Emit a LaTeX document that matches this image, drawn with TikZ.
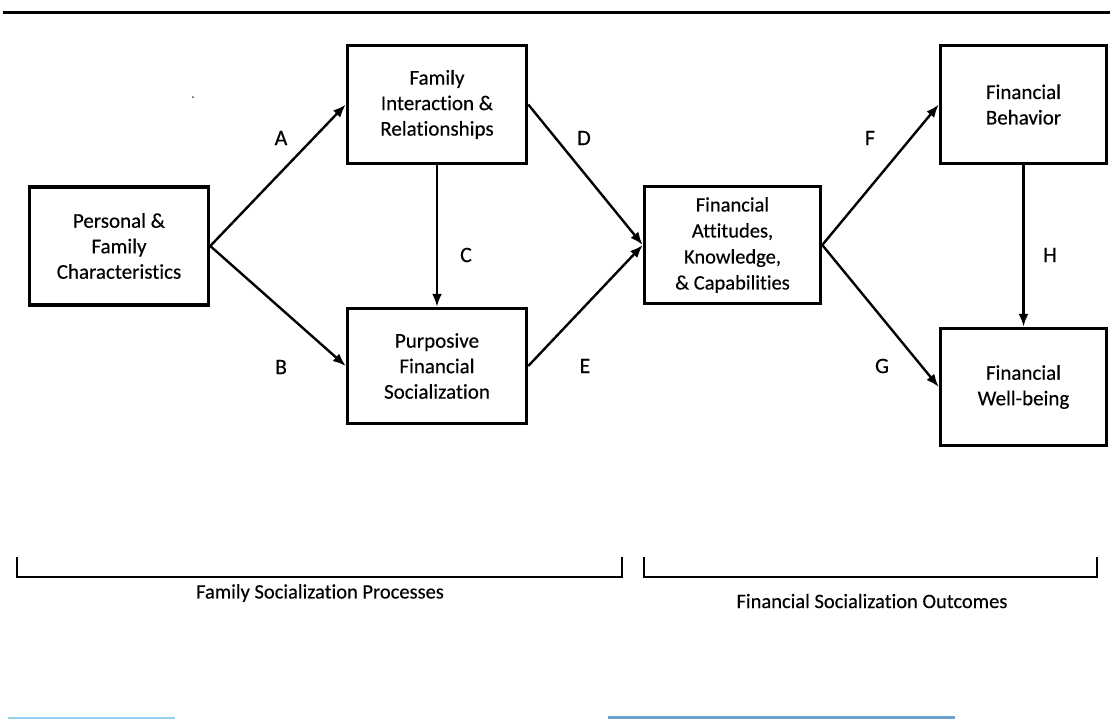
\documentclass[tikz,border=0pt]{standalone}
\usepackage{fontspec}
\setmainfont{Carlito}[Ligatures=NoCommon,FakeBold=0.35]
\usetikzlibrary{arrows.meta}
\begin{document}
\begin{tikzpicture}[x=1pt,y=-1pt,
  box/.style={draw,line width=3.5pt,align=center,inner sep=0pt,
    font=\fontsize{21}{25.5}\selectfont},
  conn/.style={line width=2.4pt,-{Latex[length=13pt,width=10pt]}},
  lab/.style={font=\fontsize{22}{24}\selectfont},
  brk/.style={line width=2.6pt},
  brklab/.style={font=\fontsize{20.5}{22}\selectfont}]
\useasboundingbox[fill=white] (0,0) rectangle (1110,721);
% top rule
\coordinate (tl) at (3,12);
\coordinate (tr) at (1110,12);
\draw[line width=3pt] (tl) -- (tr);
% boxes
\node[box,minimum width=179pt,minimum height=118pt] (p) at (119,246) {Personal \&\\Family\\Characteristics};
\node[box,minimum width=179pt,minimum height=118pt] (fi) at (437,104.5) {Family\\Interaction \&\\Relationships};
\node[box,minimum width=179pt,minimum height=115pt] (pf) at (437,366) {Purposive\\Financial\\Socialization};
\node[box,minimum width=176pt,minimum height=117pt,font=\fontsize{20.5}{26}\selectfont] (fa) at (732.5,245) {Financial\\Attitudes,\\Knowledge,\\\& Capabilities};
\node[box,minimum width=166pt,minimum height=118pt] (fb) at (1023.5,104.5) {Financial\\Behavior};
\node[box,minimum width=166pt,minimum height=117pt] (fw) at (1023.5,387) {Financial\\Well-being};
% connectors
\draw[conn] (p.east) -- (fi.west);
\draw[conn] (p.east) -- (pf.west);
\draw[conn] (fi.south) -- (pf.north);
\draw[conn] (fi.east) -- (fa.west);
\draw[conn] (pf.east) -- (fa.west);
\draw[conn] (fa.east) -- (fb.west);
\draw[conn] (fa.east) -- (fw.west);
\draw[conn] (fb.south) -- (fw.north);
% labels
\node[lab] (la) at (281,138) {A};
\node[lab] (lb) at (281,367) {B};
\node[lab] (lc) at (466,255) {C};
\node[lab] (ld) at (584,138) {D};
\node[lab] (le) at (585,366) {E};
\node[lab] (lf) at (870,138) {F};
\node[lab] (lg) at (882,366) {G};
\node[lab] (lh) at (1050,255) {H};
% speck
\fill[black!70] (193,97) circle (1pt);
% brackets
\coordinate (b1a) at (17,557);
\coordinate (b1b) at (17,577);
\coordinate (b1c) at (622,577);
\coordinate (b1d) at (622,557);
\draw[brk] (b1a) -- (b1b) -- (b1c) -- (b1d);
\coordinate (b2a) at (644,557);
\coordinate (b2b) at (644,577);
\coordinate (b2c) at (1097,577);
\coordinate (b2d) at (1097,557);
\draw[brk] (b2a) -- (b2b) -- (b2c) -- (b2d);
\node[brklab] (t1) at (320,593) {Family Socialization Processes};
\node[brklab] (t2) at (872,601) {Financial Socialization Outcomes};
% bottom blue lines
\coordinate (bl1) at (8,718);
\coordinate (bl2) at (175,718);
\draw[line width=2pt,color={rgb,255:red,150;green,210;blue,240}] (bl1) -- (bl2);
\coordinate (br1) at (608,717);
\coordinate (br2) at (955,717);
\draw[line width=3pt,color={rgb,255:red,110;green,160;blue,205}] (br1) -- (br2);
\end{tikzpicture}
\end{document}
